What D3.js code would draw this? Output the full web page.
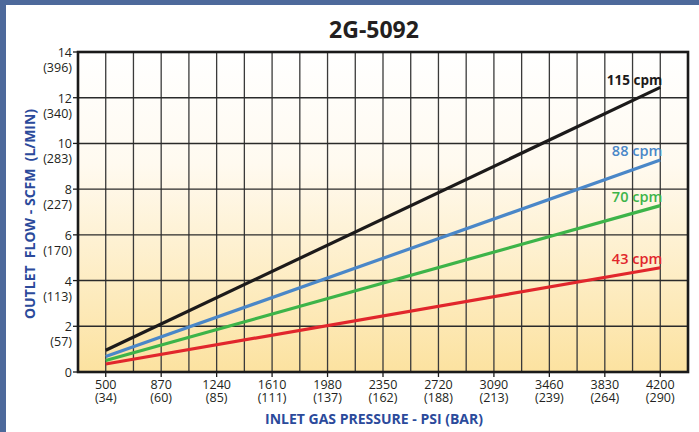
<!DOCTYPE html>
<html>
<head>
<meta charset="utf-8">
<script src="https://cdn.jsdelivr.net/npm/d3@7"></script>
<style>
  body { margin: 0; background: #fff; }
  svg { display: block; font-family: "Open Sans", "Noto Sans", sans-serif; }
</style>
</head>
<body>
<script>
// ticks
var psiTicks = [500, 870, 1240, 1610, 1980, 2350, 2720, 3090, 3460, 3830, 4200]
var barLabels = ["34", "60", "85", "111", "137", "162", "188", "213", "239", "264", "290"]
var scfmTicks = [0, 2, 4, 6, 8, 10, 12, 14]
var lpmLabels = ["", "57", "113", "170", "227", "283", "340", "396"]

// series (start at 500 psi, end at 4200 psi)
var seriesNames = ["115 cpm", "88 cpm", "70 cpm", "43 cpm"]
var seriesColors = ["#1c1a1a", "#4a87c8", "#3db449", "#e1262c"]
var seriesPsi = [500, 4200]
var series115 = [0.95, 12.45]
var series88 = [0.68, 9.27]
var series70 = [0.5, 7.28]
var series43 = [0.35, 4.56]
var seriesValues = [series115, series88, series70, series43]

var W = 699, H = 432
var margin = {top: 52, right: 11, bottom: 60, left: 78}
var width = W - margin.left - margin.right
var height = H - margin.top - margin.bottom

var svg = d3.select("body").append("svg")
    .attr("width", W)
    .attr("height", H)

// blue frame
svg.append("rect").attr("x", 0).attr("y", 0).attr("width", W).attr("height", 5).attr("fill", "#4d699b")
svg.append("rect").attr("x", 0).attr("y", 0).attr("width", 6).attr("height", H).attr("fill", "#4d699b")

var defs = svg.append("defs")
var grad = defs.append("linearGradient").attr("id", "bg")
    .attr("x1", 0).attr("y1", 0).attr("x2", 0).attr("y2", 1)
grad.append("stop").attr("offset", "0%").attr("stop-color", "#ffffff")
grad.append("stop").attr("offset", "35%").attr("stop-color", "#fffaf0")
grad.append("stop").attr("offset", "100%").attr("stop-color", "#fce2a0")

var g = svg.append("g")
    .attr("transform", "translate(" + margin.left + "," + margin.top + ")")

var x = d3.scaleLinear().domain([315, 4385]).range([0, width])
var y = d3.scaleLinear().domain([0, 14]).range([height, 0])

g.append("rect").attr("width", width).attr("height", height).attr("fill", "url(#bg)")

// grid
var vGrid = d3.range(315 + 185, 4385, 185)
g.selectAll(".vgrid").data(vGrid).enter().append("line")
    .attr("class", "vgrid")
    .attr("x1", d => x(d)).attr("x2", d => x(d))
    .attr("y1", 0).attr("y2", height)
    .attr("stroke", "#3a3a3a").attr("stroke-width", 1.3)

g.selectAll(".hgrid").data(scfmTicks.slice(1, -1)).enter().append("line")
    .attr("class", "hgrid")
    .attr("x1", 0).attr("x2", width)
    .attr("y1", d => y(d)).attr("y2", d => y(d))
    .attr("stroke", "#2a2a2a").attr("stroke-width", 1.4)

// lines
var line = d3.line()
    .x((d, i) => x(seriesPsi[i]))
    .y(d => y(d))

g.selectAll(".series").data(seriesValues).enter().append("path")
    .attr("class", "series")
    .attr("d", line)
    .attr("fill", "none")
    .attr("stroke", (d, i) => seriesColors[i])
    .attr("stroke-width", 3.2)

var labelDy = [-2, -4, -4, -4]
g.selectAll(".slabel").data(seriesValues).enter().append("text")
    .attr("class", "slabel")
    .attr("x", x(4200) + 2)
    .attr("y", (d, i) => y(d[1]) + labelDy[i])
    .attr("text-anchor", "end")
    .attr("font-size", (d, i) => i == 0 ? 13.5 : 14.5)
    .attr("font-weight", (d, i) => i == 0 ? 700 : 600)
    .attr("fill", (d, i) => seriesColors[i])
    .text((d, i) => seriesNames[i])

// border
g.append("rect").attr("width", width).attr("height", height)
    .attr("fill", "none").attr("stroke", "#1a1a1a").attr("stroke-width", 2.6)

// x ticks: psi over (bar) as one two-line label
var xt = g.selectAll(".xt").data(psiTicks).enter().append("g")
    .attr("transform", d => "translate(" + x(d) + "," + height + ")")
xt.append("line").attr("y1", 0).attr("y2", 5).attr("stroke", "#1a1a1a").attr("stroke-width", 1.3)
var xl = xt.append("text").attr("text-anchor", "middle")
    .attr("font-size", 12.5).attr("fill", "#231f20")
xl.append("tspan").attr("x", 0).attr("y", 17).text(d => d)
xl.append("tspan").attr("x", 0).attr("y", 30).text((d, i) => "(" + barLabels[i] + ")")

// y ticks: scfm over (l/min)
var yt = g.selectAll(".yt").data(scfmTicks).enter().append("g")
    .attr("transform", d => "translate(0," + y(d) + ")")
yt.append("line").attr("x1", -5).attr("x2", 0).attr("stroke", "#1a1a1a").attr("stroke-width", 1.3)
var yl = yt.append("text").attr("text-anchor", "end")
    .attr("font-size", 12.5).attr("fill", "#231f20")
yl.append("tspan").attr("x", -6).attr("y", 5).text(d => d)
yl.filter((d, i) => lpmLabels[i]).append("tspan").attr("x", -6).attr("y", 20)
    .text(d => "(" + lpmLabels[scfmTicks.indexOf(d)] + ")")

// titles
svg.append("text").attr("x", 374).attr("y", 38).attr("text-anchor", "middle")
    .attr("font-size", 23).attr("font-weight", 700).attr("fill", "#231f20").text("2G-5092")

svg.append("text").attr("x", 374).attr("y", 424).attr("text-anchor", "middle")
    .attr("font-size", 14).attr("font-weight", 700).attr("fill", "#2b4a9b")
    .text("INLET GAS PRESSURE - PSI (BAR)")

svg.append("text")
    .attr("transform", "translate(35,214) rotate(-90)")
    .attr("text-anchor", "middle")
    .attr("font-size", 14).attr("font-weight", 700).attr("fill", "#2b4a9b")
    .attr("xml:space", "preserve")
    .text("OUTLET  FLOW - SCFM  (L/MIN)")
</script>
</body>
</html>
